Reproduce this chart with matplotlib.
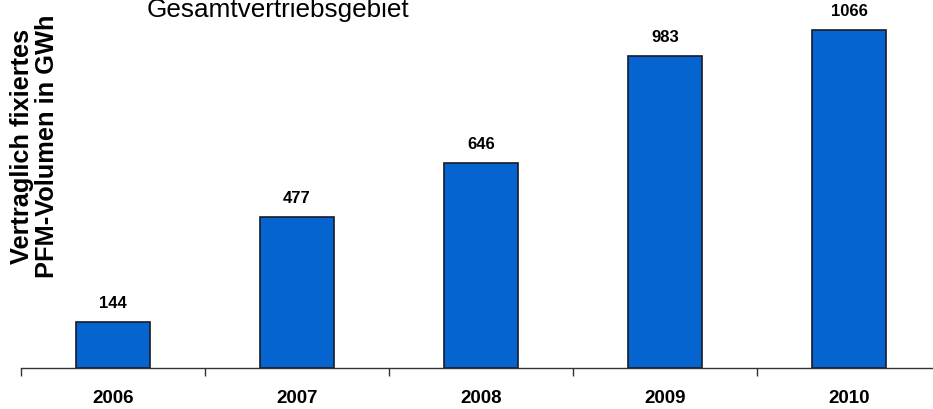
import numpy as np
from matplotlib import pyplot as plt

plt.rcParams['font.family'] = ['Liberation Sans', 'DejaVu Sans']

years = ['2006', '2007', '2008', '2009', '2010']
volumes = [144, 477, 646, 983, 1066]

fig = plt.figure(figsize=(9.33, 4.09), dpi=100)
ax = fig.add_axes([21/933, 41/409, 920/933, 368/409])

x = np.arange(len(years))
bars = ax.bar(x, volumes, width=0.40, color='#0564CF', edgecolor='#1a1a2a', linewidth=1.2)

for b, v in zip(bars, volumes):
    ax.annotate(str(v), (b.get_x() + b.get_width()/2, v), xytext=(0, 8),
                textcoords='offset points', ha='center', va='bottom',
                fontsize=12, fontweight='bold')

ax.set_xlim(-0.5, len(years) - 0.5)
ax.set_ylim(0, 1160)

# separators at category boundaries, labels in the middle
ax.set_xticks(np.arange(len(years) + 1) - 0.5)
ax.set_xticklabels([])
ax.tick_params(axis='x', which='major', direction='out', length=6, width=1, color='#333333')
ax.set_xticks(x, minor=True)
ax.set_xticklabels(years, minor=True, fontsize=13.5, fontweight='bold')
ax.tick_params(axis='x', which='minor', length=0, pad=15.5)

ax.set_yticks([])
for s in ['top', 'right', 'left']:
    ax.spines[s].set_visible(False)
ax.spines['bottom'].set_color('#333333')
ax.spines['bottom'].set_linewidth(1)

fig.text(278/933, 1 - 17/409, 'Gesamtvertriebsgebiet', ha='center', va='baseline', fontsize=18.8)
fig.text(34.5/933, 1 - 146/409, 'Vertraglich fixiertes\nPFM-Volumen in GWh', rotation=90,
         ha='center', va='center', multialignment='center', fontsize=18.3,
         fontweight='bold', linespacing=1.03)

plt.savefig('out.png', dpi=100)
